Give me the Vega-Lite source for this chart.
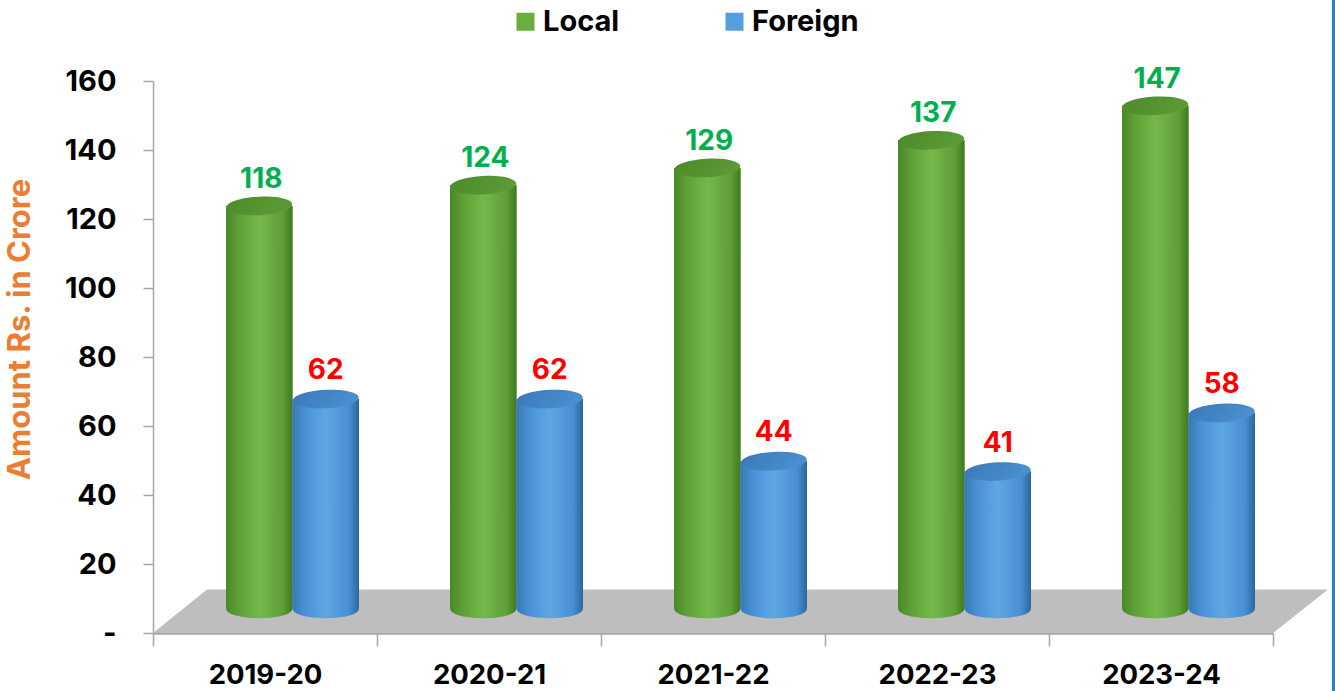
{
  "$schema": "https://vega.github.io/schema/vega-lite/v6.json",
  "autosize": "none",
  "width": 1175,
  "height": 552,
  "padding": {"left": 153, "top": 81, "right": 7, "bottom": 58},
  "background": "white",
  "datasets": {
    "bars": [
      {"year": "2019-20", "series": "Local", "amount": 118},
      {"year": "2019-20", "series": "Foreign", "amount": 62},
      {"year": "2020-21", "series": "Local", "amount": 124},
      {"year": "2020-21", "series": "Foreign", "amount": 62},
      {"year": "2021-22", "series": "Local", "amount": 129},
      {"year": "2021-22", "series": "Foreign", "amount": 44},
      {"year": "2022-23", "series": "Local", "amount": 137},
      {"year": "2022-23", "series": "Foreign", "amount": 41},
      {"year": "2023-24", "series": "Local", "amount": 147},
      {"year": "2023-24", "series": "Foreign", "amount": 58}
    ],
    "floor": [
      {"depth": 0, "back": 0, "front": 0},
      {"depth": 54, "back": 12.6, "front": 0},
      {"depth": 1120, "back": 12.6, "front": 0},
      {"depth": 1175, "back": 12.6, "front": 12.6}
    ],
    "frame": [{"edge": 1180.5, "low": -17, "high": 184}]
  },
  "resolve": {"scale": {"x": "independent"}, "axis": {"x": "independent"}},
  "layer": [
    {
      "data": {"name": "floor"},
      "mark": {"type": "area", "orient": "vertical", "fill": "#BEBEBE", "clip": false},
      "encoding": {
        "x": {"field": "depth", "type": "quantitative", "scale": {"domain": [0, 1175]}, "axis": null},
        "y": {"field": "back", "type": "quantitative", "scale": {"domain": [0, 160], "nice": false},
          "axis": {
            "title": "Amount Rs. in Crore", "titleFont": "Inter", "titleFontSize": 31, "titleFontWeight": "bold", "titleColor": "#ED7D31",
            "titleX": -117, "titleY": 248, "titleAngle": -90,
            "values": [0, 20, 40, 60, 80, 100, 120, 140, 160],
            "labelExpr": "datum.value === 0 ? '-' : datum.label",
            "labelFont": "Inter", "labelFontSize": 29, "labelFontWeight": "bold", "labelColor": "#000000", "labelPadding": 27,
            "grid": false, "tickSize": 10, "tickColor": "#A6A6A6", "tickWidth": 1.5, "domainColor": "#A6A6A6", "domainWidth": 1.5
          }},
        "y2": {"field": "front"}
      }
    },
    {
      "data": {"name": "frame"},
      "mark": {"type": "rule", "stroke": "#1F8CC6", "strokeWidth": 3, "clip": false},
      "encoding": {
        "x": {"field": "edge", "type": "quantitative", "scale": {"domain": [0, 1175]}, "axis": null},
        "y": {"field": "low", "type": "quantitative"},
        "y2": {"field": "high"}
      }
    },
    {
      "data": {"name": "bars"},
      "encoding": {
        "x": {"field": "year", "type": "nominal", "sort": null,
          "scale": {"type": "band", "range": [0, 1120], "paddingInner": 0, "paddingOuter": 0},
          "axis": {
            "title": null, "labelAngle": 0, "labelFont": "Inter", "labelFontSize": 27.5, "labelFontWeight": "bold", "labelColor": "#000000",
            "labelPadding": 15, "tickBand": "extent", "tickSize": 13, "tickColor": "#A6A6A6", "tickWidth": 1.5, "domainColor": "#A6A6A6", "domainWidth": 2.5
          }},
        "xOffset": {"field": "series", "type": "nominal", "sort": ["Local", "Foreign"],
          "scale": {"type": "band", "domain": ["Local", "Foreign"], "range": [73, 206], "paddingInner": 0, "paddingOuter": 0}}
      },
      "layer": [
        {
          "mark": {"type": "bar", "yOffset": -20},
          "encoding": {
            "y": {"field": "amount", "type": "quantitative", "stack": null},
            "y2": {"datum": 7},
            "color": {"field": "series", "type": "nominal", "sort": ["Local", "Foreign"],
              "scale": {"domain": ["Local", "Foreign"], "range": ["#6AAE3F", "#569FDF"]},
              "legend": {"orient": "none", "legendX": 358, "legendY": -74, "direction": "horizontal", "columns": 2, "title": null,
                "symbolType": "square", "symbolSize": 324, "symbolStrokeWidth": 0, "labelFont": "Inter", "labelFontSize": 29, "labelFontWeight": "bold", "labelColor": "#000000",
                "labelOffset": 3, "columnPadding": 100}}
          }
        },
        {
          "transform": [{"filter": "datum.series === 'Local'"}],
          "layer": [
            {"mark": {"type": "point", "filled": true, "opacity": 1, "size": 4356, "yOffset": -24, "shape": "M-1,0A1,0.28,0,1,0,1,0A1,0.28,0,1,0,-1,0Z",
                "fill": {"gradient": "linear", "x1": 0, "y1": 0, "x2": 1, "y2": 0, "stops": [{"offset": 0, "color": "#4A8729"}, {"offset": 0.2, "color": "#5FA037"}, {"offset": 0.5, "color": "#74B84A"}, {"offset": 0.85, "color": "#5FA037"}, {"offset": 1, "color": "#3F7A22"}]}},
              "encoding": {"y": {"datum": 0, "type": "quantitative"}}},
            {"mark": {"type": "bar", "yOffset": -20,
                "fill": {"gradient": "linear", "x1": 0, "y1": 0, "x2": 1, "y2": 0, "stops": [{"offset": 0, "color": "#4A8729"}, {"offset": 0.2, "color": "#5FA037"}, {"offset": 0.5, "color": "#74B84A"}, {"offset": 0.85, "color": "#5FA037"}, {"offset": 1, "color": "#3F7A22"}]}},
              "encoding": {"y": {"field": "amount", "type": "quantitative", "stack": null}, "y2": {"datum": 7}}},
            {"mark": {"type": "point", "filled": true, "opacity": 1, "size": 4356, "yOffset": -20, "angle": -3, "shape": "M-1,0A1,0.28,0,1,0,1,0A1,0.28,0,1,0,-1,0Z",
                "fill": {"gradient": "linear", "x1": 0, "y1": 0, "x2": 1, "y2": 0.3, "stops": [{"offset": 0, "color": "#4D8A2B"}, {"offset": 1, "color": "#5B9A35"}]}},
              "encoding": {"y": {"field": "amount", "type": "quantitative", "stack": null}}},
            {"mark": {"type": "text", "font": "Inter", "fontSize": 28, "fontWeight": "bold", "fill": "#00B050", "dx": 2, "dy": -46},
              "encoding": {"y": {"field": "amount", "type": "quantitative", "stack": null}, "text": {"field": "amount", "type": "quantitative"}}}
          ]
        },
        {
          "transform": [{"filter": "datum.series === 'Foreign'"}],
          "layer": [
            {"mark": {"type": "point", "filled": true, "opacity": 1, "size": 4356, "yOffset": -24, "shape": "M-1,0A1,0.28,0,1,0,1,0A1,0.28,0,1,0,-1,0Z",
                "fill": {"gradient": "linear", "x1": 0, "y1": 0, "x2": 1, "y2": 0, "stops": [{"offset": 0, "color": "#3A78B5"}, {"offset": 0.2, "color": "#4B93D6"}, {"offset": 0.5, "color": "#5FA6E4"}, {"offset": 0.85, "color": "#4A8FD0"}, {"offset": 1, "color": "#2E659C"}]}},
              "encoding": {"y": {"datum": 0, "type": "quantitative"}}},
            {"mark": {"type": "bar", "yOffset": -20,
                "fill": {"gradient": "linear", "x1": 0, "y1": 0, "x2": 1, "y2": 0, "stops": [{"offset": 0, "color": "#3A78B5"}, {"offset": 0.2, "color": "#4B93D6"}, {"offset": 0.5, "color": "#5FA6E4"}, {"offset": 0.85, "color": "#4A8FD0"}, {"offset": 1, "color": "#2E659C"}]}},
              "encoding": {"y": {"field": "amount", "type": "quantitative", "stack": null}, "y2": {"datum": 7}}},
            {"mark": {"type": "point", "filled": true, "opacity": 1, "size": 4356, "yOffset": -20, "angle": -3, "shape": "M-1,0A1,0.28,0,1,0,1,0A1,0.28,0,1,0,-1,0Z",
                "fill": {"gradient": "linear", "x1": 0, "y1": 0, "x2": 1, "y2": 0.3, "stops": [{"offset": 0, "color": "#3A78B5"}, {"offset": 1, "color": "#4A8FD0"}]}},
              "encoding": {"y": {"field": "amount", "type": "quantitative", "stack": null}}},
            {"mark": {"type": "text", "font": "Inter", "fontSize": 28, "fontWeight": "bold", "fill": "#FF0000", "dx": 0, "dy": -48},
              "encoding": {"y": {"field": "amount", "type": "quantitative", "stack": null}, "text": {"field": "amount", "type": "quantitative"}}}
          ]
        }
      ]
    }
  ],
  "config": {"view": {"stroke": null}}
}
